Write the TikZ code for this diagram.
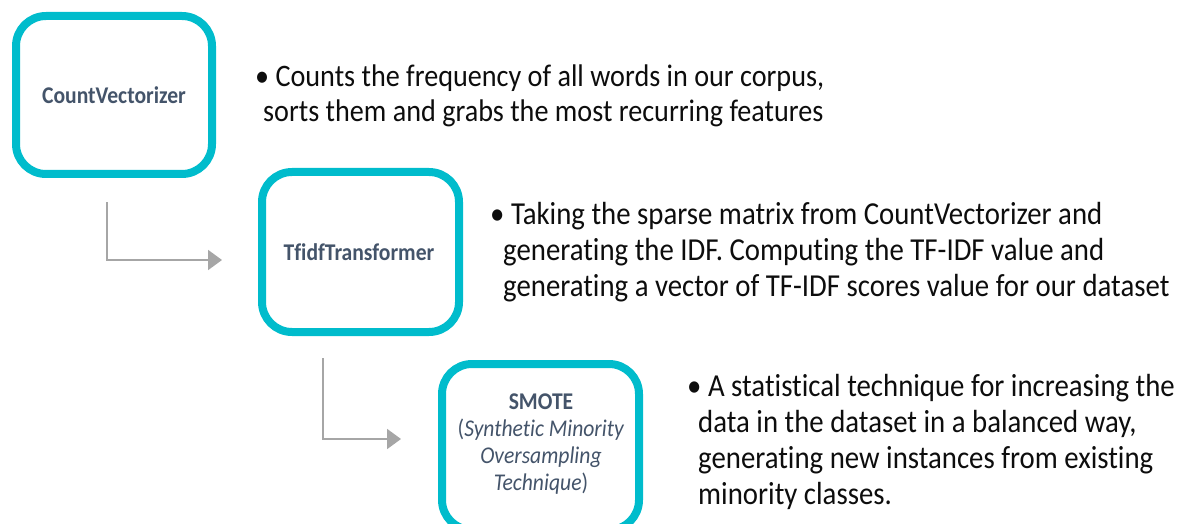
\documentclass[tikz,border=0pt]{standalone}
\usepackage{fontspec}
\setmainfont{Carlito}
\newfontfamily\calfont[FakeStretch=0.9,RawFeature={-liga}]{Carlito}
\usetikzlibrary{arrows.meta}
\definecolor{boxcyan}{RGB}{0,188,204}
\definecolor{labelgray}{RGB}{68,84,106}
\definecolor{arrowgray}{RGB}{166,166,166}
\definecolor{bodytext}{RGB}{13,13,13}
\tikzset{
  stepbox/.style={draw=boxcyan, line width=8pt, rounded corners=30pt, fill=white},
  boxlabel/.style={text=labelgray, font=\calfont\fontsize{24}{27}\selectfont, align=center, inner sep=0pt},
  boldlabel/.style={boxlabel, font=\calfont\bfseries\fontsize{24}{27}\selectfont},
  bullettext/.style={text=bodytext, font=\calfont\fontsize{32}{35.8}\selectfont, align=left, inner sep=0pt, anchor=base west},
  flow/.style={draw=arrowgray, line width=2pt, -{Triangle[length=14pt,width=20pt]}}
}
\begin{document}
\begin{tikzpicture}[x=1pt,y=-1pt]
\useasboundingbox (0,0) rectangle (1189,524);
\clip (0,0) rectangle (1189,524);
% boxes
\draw[stepbox] (16,16) rectangle (212,174);
\draw[stepbox] (262,172) rectangle (459,332);
\draw[stepbox] (442,364) rectangle (639,530);
\node[boldlabel] (cv) at (114,95) {CountVectorizer};
\node[boldlabel] (tf) at (359,252) {TfidfTransformer};
\node[boxlabel] (sm) at (541,444) {{\bfseries SMOTE}\\(\textit{Synthetic Minority}\\\textit{Oversampling}\\\textit{Technique})};
% connectors
\coordinate (a1s) at (107,202);
\coordinate (a1e) at (222,260);
\coordinate (a2s) at (323,358);
\coordinate (a2e) at (401,439);
\draw[flow] (a1s) |- (a1e);
\draw[flow] (a2s) |- (a2e);
% descriptions
\node[bullettext, font=\calfont\fontsize{31.3}{35.8}\selectfont] (d1) at (255,122) {\textbullet\ Counts the frequency of all words in our corpus,\\\hspace{8pt}sorts them and grabs the most recurring features};
\node[bullettext] (d2) at (490,296) {\textbullet\ Taking the sparse matrix from CountVectorizer and\\\hspace{13pt}generating the IDF. Computing the TF-IDF value and\\\hspace{13pt}generating a vector of TF-IDF scores value for our dataset};
\node[bullettext] (d3) at (687,504) {\textbullet\ A statistical technique for increasing the\\\hspace{11pt}data in the dataset in a balanced way,\\\hspace{11pt}generating new instances from existing\\\hspace{11pt}minority classes.};
\end{tikzpicture}
\end{document}
